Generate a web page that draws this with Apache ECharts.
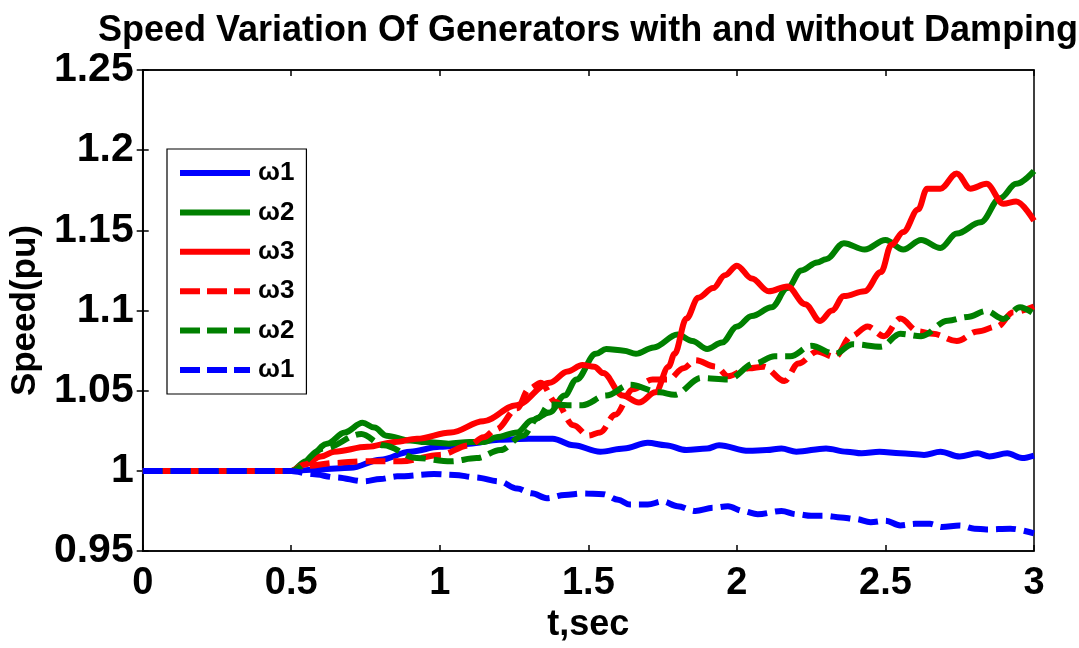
<!DOCTYPE html>
<html>
<head>
<meta charset="utf-8">
<title>Speed Variation Of Generators</title>
<script src="https://cdn.jsdelivr.net/npm/echarts@6/dist/echarts.min.js"></script>
<style>
  html, body { margin: 0; padding: 0; background: #fff; }
  #chart { width: 1079px; height: 648px; }
</style>
</head>
<body>
<div id="chart"></div>
<script>
// Generator speeds (pu) against time (s): solid = without damping, dashed = with damping
const w1Undamped = [[0,1],[0.5,1],[0.6,1.001],[0.7,1.002],[0.8,1.007],[0.9,1.012],[1.0,1.015],[1.1,1.017],[1.2,1.0195],[1.3,1.020],[1.38,1.020],[1.45,1.016],[1.54,1.012],[1.62,1.014],[1.7,1.0175],[1.76,1.016],[1.83,1.013],[1.9,1.014],[1.94,1.016],[2.04,1.0125],[2.1,1.013],[2.15,1.014],[2.2,1.012],[2.3,1.014],[2.37,1.012],[2.42,1.011],[2.48,1.012],[2.55,1.011],[2.63,1.010],[2.685,1.012],[2.75,1.009],[2.81,1.011],[2.85,1.009],[2.91,1.011],[2.96,1.008],[3.0,1.0095]];
const w2Undamped = [[0,1],[0.5,1],[0.55,1.006],[0.62,1.017],[0.68,1.024],[0.74,1.030],[0.78,1.027],[0.82,1.022],[0.9,1.019],[0.95,1.018],[1.03,1.017],[1.1,1.018],[1.15,1.018],[1.19,1.021],[1.26,1.024],[1.31,1.0316],[1.37,1.0365],[1.42,1.047],[1.46,1.057],[1.525,1.073],[1.56,1.076],[1.62,1.075],[1.66,1.073],[1.72,1.077],[1.8,1.085],[1.85,1.081],[1.9,1.076],[1.95,1.080],[2.0,1.090],[2.05,1.0966],[2.117,1.102],[2.17,1.114],[2.217,1.125],[2.27,1.13],[2.3,1.132],[2.36,1.142],[2.43,1.138],[2.5,1.144],[2.56,1.138],[2.62,1.144],[2.685,1.139],[2.74,1.148],[2.82,1.155],[2.886,1.17],[2.94,1.179],[3.0,1.187]];
const w3Undamped = [[0,1],[0.5,1],[0.545,1.004],[0.6,1.009],[0.645,1.012],[0.756,1.015],[0.85,1.018],[0.923,1.02],[1.037,1.024],[1.147,1.031],[1.258,1.041],[1.37,1.055],[1.43,1.062],[1.48,1.066],[1.52,1.065],[1.55,1.061],[1.615,1.047],[1.67,1.0426],[1.726,1.049],[1.77,1.065],[1.79,1.073],[1.83,1.095],[1.87,1.108],[1.92,1.114],[1.96,1.122],[2.0,1.128],[2.05,1.12],[2.107,1.112],[2.17,1.115],[2.23,1.104],[2.28,1.0935],[2.32,1.1],[2.36,1.109],[2.43,1.112],[2.485,1.124],[2.52,1.141],[2.56,1.149],[2.61,1.163],[2.64,1.176],[2.685,1.176],[2.74,1.1855],[2.786,1.176],[2.84,1.179],[2.897,1.1666],[2.94,1.168],[3.0,1.156]];
const w3Damped = [[0,1],[0.5,1],[0.545,1.003],[0.65,1.005],[0.736,1.006],[0.87,1.006],[1.0,1.010],[1.10,1.016],[1.147,1.021],[1.19,1.026],[1.26,1.039],[1.3,1.051],[1.34,1.055],[1.39,1.043],[1.45,1.0285],[1.50,1.022],[1.54,1.024],[1.59,1.035],[1.65,1.051],[1.716,1.057],[1.77,1.057],[1.82,1.064],[1.86,1.069],[1.93,1.065],[1.97,1.059],[2.04,1.064],[2.09,1.065],[2.16,1.056],[2.207,1.067],[2.27,1.0745],[2.33,1.071],[2.385,1.084],[2.44,1.090],[2.495,1.084],[2.55,1.095],[2.61,1.087],[2.66,1.0855],[2.74,1.081],[2.81,1.087],[2.876,1.090],[2.93,1.099],[3.0,1.1025]];
const w2Damped = [[0,1],[0.5,1],[0.61,1.014],[0.736,1.023],[0.81,1.016],[0.923,1.008],[1.037,1.006],[1.124,1.008],[1.204,1.013],[1.28,1.022],[1.33,1.033],[1.37,1.0415],[1.43,1.041],[1.48,1.041],[1.56,1.047],[1.64,1.0537],[1.74,1.049],[1.79,1.0475],[1.88,1.058],[1.97,1.057],[2.06,1.067],[2.127,1.0715],[2.18,1.0715],[2.25,1.078],[2.33,1.073],[2.39,1.079],[2.485,1.0775],[2.55,1.0855],[2.62,1.084],[2.71,1.0937],[2.776,1.096],[2.84,1.0997],[2.897,1.0948],[2.953,1.102],[3.0,1.098]];
const w1Damped = [[0,1],[0.5,1],[0.57,0.998],[0.65,0.996],[0.746,0.9935],[0.8,0.995],[0.856,0.9966],[0.98,0.998],[1.05,0.9975],[1.12,0.996],[1.2,0.9935],[1.26,0.989],[1.31,0.986],[1.36,0.983],[1.42,0.985],[1.48,0.986],[1.55,0.9855],[1.6,0.982],[1.64,0.979],[1.7,0.979],[1.75,0.981],[1.8,0.978],[1.86,0.975],[1.92,0.977],[1.97,0.978],[2.02,0.975],[2.07,0.973],[2.15,0.975],[2.2,0.973],[2.25,0.972],[2.3,0.972],[2.35,0.971],[2.4,0.970],[2.45,0.968],[2.5,0.969],[2.55,0.966],[2.6,0.967],[2.65,0.967],[2.69,0.965],[2.75,0.966],[2.8,0.964],[2.84,0.9635],[2.92,0.964],[3.0,0.961]];

// Legend names (trailing space keeps the damped entries distinct; trimmed when drawn)
const seriesNames = ['ω1', 'ω2', 'ω3', 'ω3 ', 'ω2 ', 'ω1 '];
const seriesData = [w1Undamped, w2Undamped, w3Undamped, w3Damped, w2Damped, w1Damped];
const seriesColors = ['#0000ff', '#008000', '#ff0000', '#ff0000', '#008000', '#0000ff'];
const seriesDashed = [false, false, false, true, true, true];

const timeRange = [0, 3];
const speedRange = [0.95, 1.25];

const FONT = '"Liberation Sans", Arial, sans-serif';

// Legend keys: a plain bar for solid lines, three bars for dashed lines
const ICON_SOLID = 'path://M0,0H70V6H0Z';
const ICON_DASHED = 'path://M0,0H20V6H0Z M27,0H47V6H27Z M54,0H70V6H54Z';

const chart = echarts.init(document.getElementById('chart'), null, { renderer: 'canvas' });

const series = seriesNames.map((name, i) => ({
  name: name,
  type: 'line',
  data: seriesData[i],
  xAxisIndex: 0,
  yAxisIndex: 0,
  showSymbol: false,
  symbol: 'none',
  smooth: 0.35,
  smoothMonotone: 'x',
  lineStyle: {
    color: seriesColors[i],
    width: 6,
    type: seriesDashed[i] ? [20, 8] : 'solid'
  },
  itemStyle: { color: seriesColors[i] },
  animation: false,
  z: 2 + i
}));

const option = {
  backgroundColor: '#ffffff',
  animation: false,
  title: {
    text: 'Speed Variation Of Generators with and without Damping',
    left: 93,
    top: 8,
    textStyle: { fontFamily: FONT, fontWeight: 'bold', fontSize: 36, color: '#000' }
  },
  grid: {
    left: 137, right: 45, top: 70, bottom: 86,
    show: true, borderColor: '#000', borderWidth: 1.5, backgroundColor: '#fff'
  },
  legend: {
    orient: 'vertical',
    left: 167,
    top: 149,
    data: seriesNames.map((n, i) => ({
      name: n,
      icon: seriesDashed[i] ? ICON_DASHED : ICON_SOLID,
      itemStyle: { color: seriesColors[i] }
    })),
    itemWidth: 70,
    itemHeight: 6,
    itemGap: 13.4,
    padding: [11, 12, 11, 13],
    backgroundColor: '#fff',
    borderColor: '#000',
    borderWidth: 1.2,
    borderRadius: 0,
    formatter: (n) => n.trim(),
    textStyle: { fontFamily: FONT, fontWeight: 'bold', fontSize: 26, color: '#000', padding: [0, 0, 0, 3] },
    selectedMode: false
  },
  xAxis: [
    {
      type: 'value', min: timeRange[0], max: timeRange[1], interval: 0.5,
      name: 't,sec', nameLocation: 'middle', nameGap: 52,
      nameTextStyle: { fontFamily: FONT, fontWeight: 'bold', fontSize: 36, color: '#000' },
      axisLine: { show: true, lineStyle: { color: '#000', width: 1.5 } },
      axisTick: { show: true, inside: true, length: 6, lineStyle: { color: '#000', width: 1.5 } },
      axisLabel: { fontFamily: FONT, fontWeight: 'bold', fontSize: 38, color: '#000', margin: 13 },
      splitLine: { show: false }
    },
    {
      type: 'value', min: timeRange[0], max: timeRange[1], interval: 0.5, position: 'top',
      axisLine: { show: true, lineStyle: { color: '#000', width: 1.5 } },
      axisTick: { show: true, inside: true, length: 6, lineStyle: { color: '#000', width: 1.5 } },
      axisLabel: { show: false },
      splitLine: { show: false }
    }
  ],
  yAxis: [
    {
      type: 'value', min: speedRange[0], max: speedRange[1], interval: 0.05,
      name: 'Speed(pu)', nameLocation: 'middle', nameGap: 92,
      nameTextStyle: { fontFamily: FONT, fontWeight: 'bold', fontSize: 35, color: '#000' },
      axisLine: { show: true, lineStyle: { color: '#000', width: 1.5 } },
      axisTick: { show: true, inside: true, length: 6, lineStyle: { color: '#000', width: 1.5 } },
      axisLabel: { fontFamily: FONT, fontWeight: 'bold', fontSize: 41, color: '#000', margin: 9 },
      splitLine: { show: false }
    },
    {
      type: 'value', min: speedRange[0], max: speedRange[1], interval: 0.05, position: 'right',
      axisLine: { show: true, lineStyle: { color: '#000', width: 1.5 } },
      axisTick: { show: true, inside: true, length: 6, lineStyle: { color: '#000', width: 1.5 } },
      axisLabel: { show: false },
      splitLine: { show: false }
    }
  ],
  series: series
};

chart.setOption(option);
</script>
</body>
</html>
